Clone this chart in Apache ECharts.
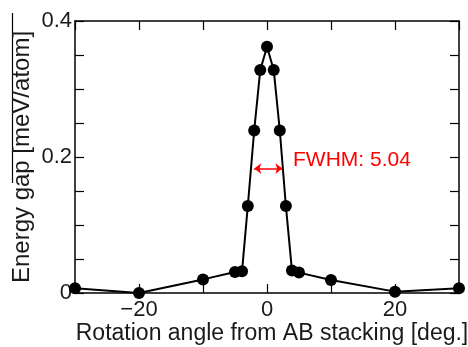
<!DOCTYPE html>
<html>
<head>
<meta charset="utf-8">
<script src="https://cdn.jsdelivr.net/npm/echarts@6/dist/echarts.min.js"></script>
<style>
html,body{margin:0;padding:0;background:#fff;overflow:hidden;width:468px;height:347px;}
#chart{width:468px;height:347px;overflow:hidden;}
</style>
</head>
<body>
<div id="chart"></div>
<script>
// Data
var angles = [-30, -20, -10, -5.0, -3.9, -3.0, -2.0, -1.05, 0, 1.05, 2.0, 2.95, 3.9, 5.0, 10, 20, 30];
var gaps   = [0.007, 0.0, 0.020, 0.031, 0.032, 0.128, 0.239, 0.328, 0.362, 0.328, 0.239, 0.128, 0.033, 0.030, 0.019, 0.002, 0.007];
var xTickLabels = [-20, 0, 20];
var yTickLabels = [0, 0.2, 0.4];
var fwhmStart = [-2.0, 0.183];
var fwhmEnd = [2.4, 0.183];
var fwhmText = 'FWHM: 5.04';
var fwhmTextAt = [4.06, 0.196];

var FONT = 'Liberation Sans, Arial, sans-serif';
var TXT = '#1a1a1a';

var chart = echarts.init(document.getElementById('chart'), null, {renderer: 'canvas', width: 468, height: 347});

function near(v, list) {
  for (var i = 0; i < list.length; i++) if (Math.abs(v - list[i]) < 1e-6) return true;
  return false;
}

var pts = angles.map(function (a, i) { return [a, gaps[i]]; });

var axisLine = {show: true, onZero: false, lineStyle: {color: '#000', width: 1.5}};
var tick = {show: true, inside: true, length: 9, lineStyle: {color: '#000', width: 1.2}};

chart.setOption({
  animation: false,
  grid: {left: 75, right: 9, top: 21, bottom: 54, containLabel: false, outerBoundsMode: 'none'},
  xAxis: [{
    type: 'value', min: -30, max: 30, interval: 10, position: 'bottom',
    axisLine: axisLine, axisTick: tick, splitLine: {show: false},
    axisLabel: {
      color: TXT, fontFamily: FONT, fontSize: 22, margin: 6,
      formatter: function (v) {
        if (!near(v, xTickLabels)) return '';
        return v < 0 ? '\u2212' + Math.abs(v) : String(v);
      }
    },
    name: 'Rotation angle from AB stacking [deg.]',
    nameLocation: 'middle', nameGap: 29, nameMoveOverlap: false,
    nameTextStyle: {color: TXT, fontFamily: FONT, fontSize: 23, padding: [0, 0, 0, 10]}
  }, {
    type: 'value', min: -30, max: 30, interval: 10, position: 'top',
    axisLine: axisLine, axisTick: tick, splitLine: {show: false},
    axisLabel: {show: false}
  }],
  yAxis: [{
    type: 'value', min: 0, max: 0.4, interval: 0.05, position: 'left',
    axisLine: axisLine, axisTick: tick, splitLine: {show: false},
    axisLabel: {
      color: TXT, fontFamily: FONT, fontSize: 22, margin: 3,
      formatter: function (v) {
        if (!near(v, yTickLabels)) return '';
        return v === 0 ? '0' : v.toFixed(1);
      }
    },
    name: 'Energy gap [meV/atom]',
    nameLocation: 'middle', nameGap: 41, nameMoveOverlap: false,
    nameTextStyle: {color: TXT, fontFamily: FONT, fontSize: 24}
  }, {
    type: 'value', min: 0, max: 0.4, interval: 0.05, position: 'right',
    axisLine: axisLine, axisTick: tick, splitLine: {show: false},
    axisLabel: {show: false}
  }],
  series: [{
    type: 'line',
    data: pts,
    xAxisIndex: 0, yAxisIndex: 0,
    clip: false,
    symbol: 'circle', symbolSize: 12,
    itemStyle: {color: '#000'},
    lineStyle: {color: '#000', width: 2},
    z: 3,
    markLine: {
      silent: true,
      symbol: ['arrow', 'arrow'], symbolSize: [8, 7],
      lineStyle: {color: '#ff0000', width: 1.5, type: 'solid'},
      label: {show: false},
      data: [[{coord: fwhmStart}, {coord: fwhmEnd}]]
    },
    markPoint: {
      silent: true,
      symbol: 'circle', symbolSize: 0,
      label: {
        show: true, position: 'right', distance: 0,
        color: '#ff0000', fontFamily: FONT, fontSize: 21,
        formatter: fwhmText
      },
      data: [{coord: fwhmTextAt}]
    }
  }],
  graphic: [{
    type: 'line', silent: true,
    shape: {x1: 12.5, y1: 13, x2: 12.5, y2: 183},
    style: {stroke: '#000', lineWidth: 1.2}
  }]
});
</script>
</body>
</html>
